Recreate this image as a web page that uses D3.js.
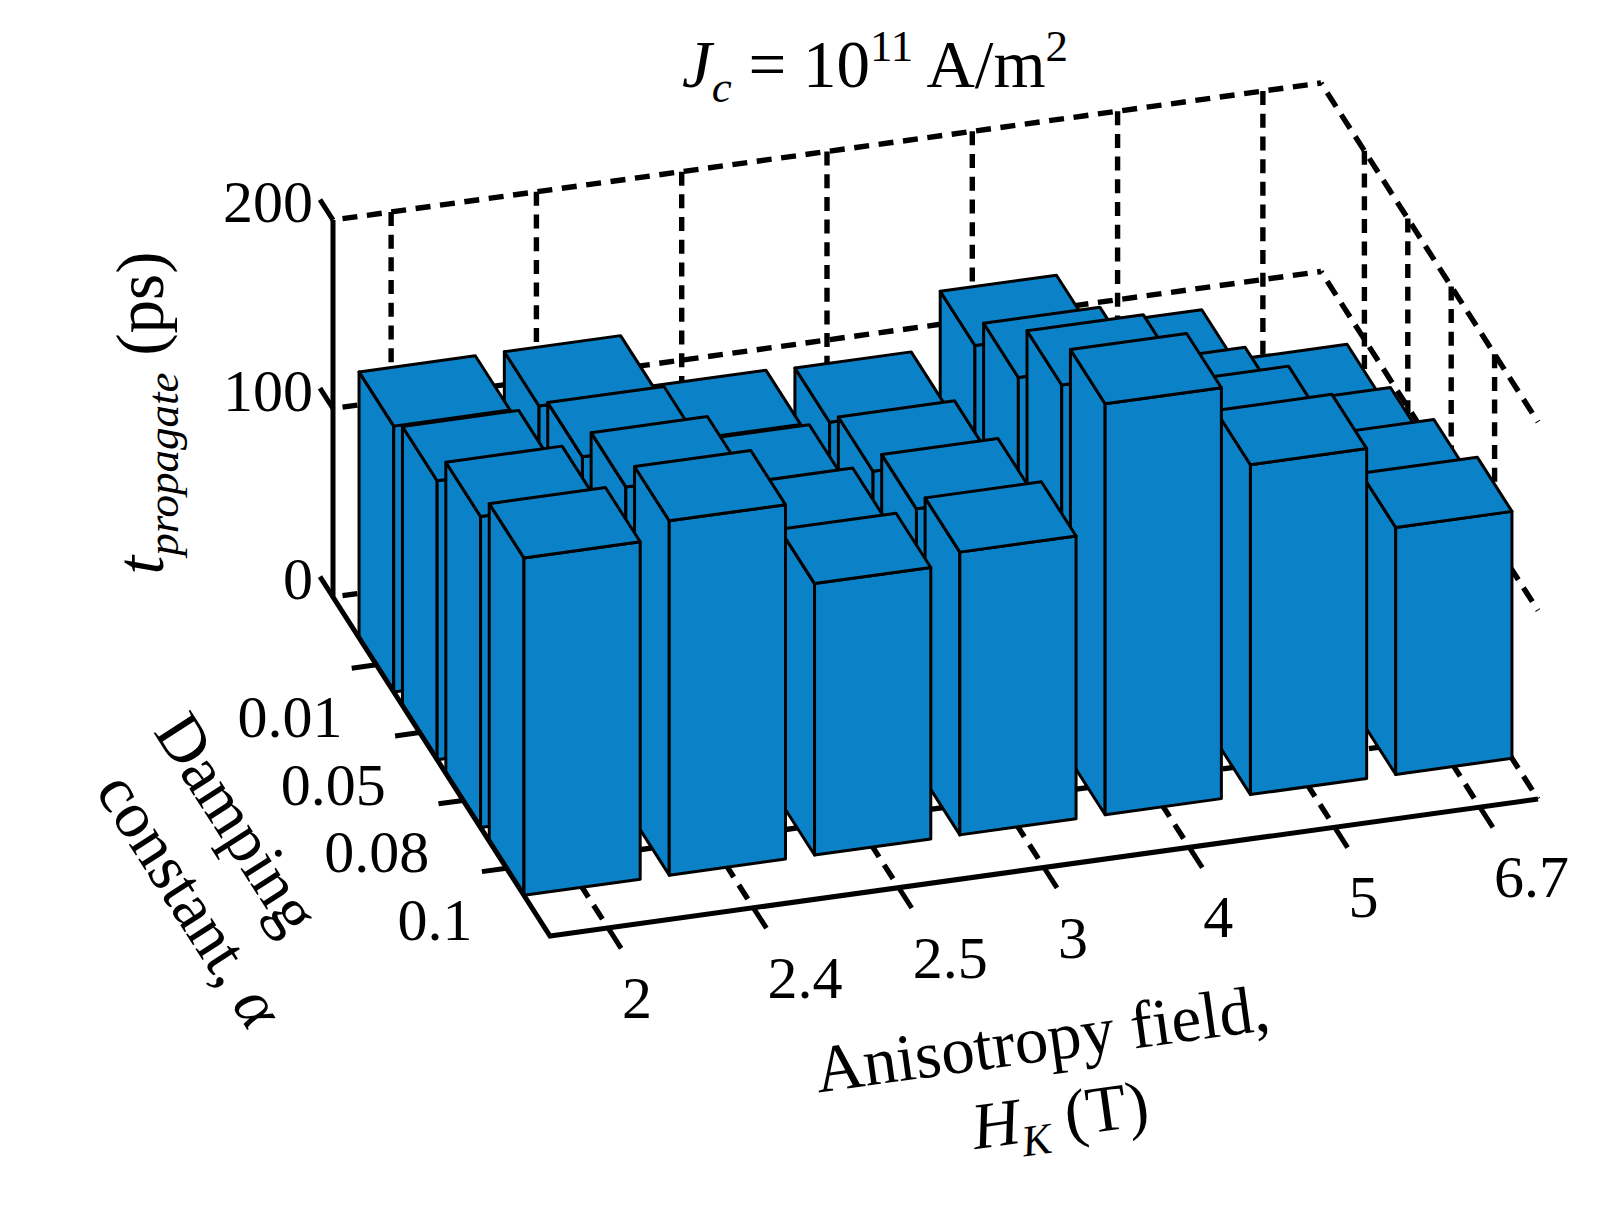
<!DOCTYPE html>
<html>
<head>
<meta charset="utf-8">
<script src="https://cdn.jsdelivr.net/npm/d3@7"></script>
<style>
  body { margin: 0; background: white; }
  text { font-family: "Liberation Serif", serif; fill: black; }
</style>
</head>
<body>
<div id="chart"></div>
<script>
// Tick labels
const hkLabels = ["2", "2.4", "2.5", "3", "4", "5", "6.7"];
const alphaLabels = ["0.01", "0.05", "0.08", "0.1"];
const zTicks = [0, 100, 200];

// Propagation time (ps), one list per damping constant, in order of hkLabels
const alpha001 = [141, 141, 112, 111, 141, 112, 83];
const alpha005 = [148, 150, 119, 121, 160, 128, 96];
const alpha008 = [165, 170, 132, 137, 192, 154, 115];
const alpha01 = [179, 188, 144, 150, 218, 175, 131];
const rows = [alpha001, alpha005, alpha008, alpha01];

const width = 1598, height = 1226;
const barColor = "#0b82c8";

const svg = d3.select("#chart")
    .append("svg")
    .attr("width", width)
    .attr("height", height);

// The axes are skewed, so each data axis gets a scale per screen direction
const xToPx = d3.scaleLinear().domain([0.6, 7.4]).range([0, 988]);
const xToPy = d3.scaleLinear().domain([0.6, 7.4]).range([0, -137]);
const yToPx = d3.scaleLinear().domain([0, 5]).range([0, 217]);
const yToPy = d3.scaleLinear().domain([0, 5]).range([0, 339]);
const zToPy = d3.scaleLinear().domain([0, 200]).range([0, -377]);
const origin = [333, 597];

function project(x, y, z) {
    return [
        origin[0] + xToPx(x) + yToPx(y),
        origin[1] + xToPy(x) + yToPy(y) + zToPy(z)
    ];
}
const xMin = 0.6, xMax = 7.4, yMin = 0, yMax = 5, zMax = 200;
const xVals = hkLabels.map((d, i) => i + 1);
const yVals = alphaLabels.map((d, i) => i + 1);
const line = d3.line();

// Dashed grid on the walls and the floor
const grid = svg.append("g")
    .attr("fill", "none")
    .attr("stroke", "black")
    .attr("stroke-width", 5.4);

function gridLine(a, b, dash, offset) {
    grid.append("path")
        .attr("d", line([a, b]))
        .attr("stroke-dasharray", dash)
        .attr("stroke-dashoffset", offset);
}

zTicks.forEach(z => {
    gridLine(project(xMin, yMin, z), project(xMax, yMin, z), "15 9.6", 15);
    gridLine(project(xMax, yMin, z), project(xMax, yMax, z), "16.5 9.5", 14.5);
});
xVals.forEach(x => {
    gridLine(project(x, yMin, zMax), project(x, yMin, 0), "14 8.7", 0);
    gridLine(project(x, yMin, 0), project(x, yMax, 0), "16.5 9.5", 14.5);
});
yVals.forEach(y => {
    gridLine(project(xMax, y, zMax), project(xMax, y, 0), "14 8.7", 0);
    gridLine(project(xMin, y, 0), project(xMax, y, 0), "15 9.6", 15);
});

// Bars, far ones first so that near ones cover them
const bars = [];
rows.forEach((row, j) => {
    row.slice().reverse().forEach((value, k) => {
        bars.push({ x: row.length - k, y: j + 1, value: value });
    });
});

const half = 0.4;
const barGroups = svg.append("g")
    .selectAll("g")
    .data(bars)
    .enter()
    .append("g")
    .attr("fill", barColor)
    .attr("stroke", "black")
    .attr("stroke-width", 3)
    .attr("stroke-linejoin", "round");

// Left face
barGroups.append("path").attr("d", d => line([
    project(d.x - half, d.y - half, 0),
    project(d.x - half, d.y + half, 0),
    project(d.x - half, d.y + half, d.value),
    project(d.x - half, d.y - half, d.value)
]) + "Z");
// Front face
barGroups.append("path").attr("d", d => line([
    project(d.x - half, d.y + half, 0),
    project(d.x + half, d.y + half, 0),
    project(d.x + half, d.y + half, d.value),
    project(d.x - half, d.y + half, d.value)
]) + "Z");
// Top face
barGroups.append("path").attr("d", d => line([
    project(d.x - half, d.y - half, d.value),
    project(d.x + half, d.y - half, d.value),
    project(d.x + half, d.y + half, d.value),
    project(d.x - half, d.y + half, d.value)
]) + "Z");

// Solid axis lines and tick marks
const axes = svg.append("g")
    .attr("fill", "none")
    .attr("stroke", "black")
    .attr("stroke-width", 5);

axes.append("path").attr("d", line([
    project(xMin, yMin, zMax),
    project(xMin, yMin, 0),
    project(xMin, yMax, 0),
    project(xMax, yMax, 0)
]));
zTicks.forEach(z => {
    axes.append("path").attr("d", line([project(xMin, yMin, z), project(xMin, yMin - 0.3, z)]));
});
xVals.forEach(x => {
    axes.append("path").attr("d", line([project(x, yMax, 0), project(x, yMax + 0.3, 0)]));
});
yVals.forEach(y => {
    axes.append("path").attr("d", line([project(xMin, y, 0), project(xMin - 0.17, y, 0)]));
});

// Tick labels
const fontSize = 60;
svg.append("g").selectAll("text")
    .data(zTicks)
    .enter()
    .append("text")
    .attr("x", d => project(xMin, yMin, d)[0] - 20)
    .attr("y", d => project(xMin, yMin, d)[1] + 2)
    .attr("text-anchor", "end")
    .style("font-size", fontSize + "px")
    .text(d => d);

svg.append("g").selectAll("text")
    .data(hkLabels)
    .enter()
    .append("text")
    .attr("x", (d, i) => project(xVals[i], yMax, 0)[0] + 14)
    .attr("y", (d, i) => project(xVals[i], yMax, 0)[1] + 90)
    .style("font-size", fontSize + "px")
    .text(d => d);

svg.append("g").selectAll("text")
    .data(alphaLabels)
    .enter()
    .append("text")
    .attr("x", (d, i) => project(xMin, yVals[i], 0)[0] - 34)
    .attr("y", (d, i) => project(xMin, yVals[i], 0)[1] + 72)
    .attr("text-anchor", "end")
    .style("font-size", fontSize + "px")
    .text(d => d);

// Title
const title = svg.append("text")
    .attr("x", 875)
    .attr("y", 87)
    .attr("text-anchor", "middle")
    .style("font-size", "67px");
title.append("tspan").style("font-style", "italic").text("J");
title.append("tspan").attr("dy", 15).style("font-size", "45px").style("font-style", "italic").text("c");
title.append("tspan").attr("dy", -15).text(" = 10");
title.append("tspan").attr("dy", -26).style("font-size", "45px").text("11");
title.append("tspan").attr("dy", 26).text(" A/m");
title.append("tspan").attr("dy", -26).style("font-size", "45px").text("2");

// Axis titles
const zLabel = svg.append("text")
    .attr("transform", "translate(163,413) rotate(-90)")
    .attr("text-anchor", "middle")
    .style("font-size", "67px");
zLabel.append("tspan").style("font-style", "italic").text("t");
zLabel.append("tspan").attr("dy", 15).style("font-size", "45px").style("font-style", "italic").text("propagate");
zLabel.append("tspan").attr("dy", -15).text(" (ps)");

svg.append("text")
    .attr("transform", "translate(1045,1061) rotate(-7.9)")
    .attr("text-anchor", "middle")
    .style("font-size", "67px")
    .text("Anisotropy field,");

const hkLabel = svg.append("text")
    .attr("transform", "translate(1063,1137) rotate(-7.9)")
    .attr("text-anchor", "middle")
    .style("font-size", "66px");
hkLabel.append("tspan").style("font-style", "italic").text("H");
hkLabel.append("tspan").attr("dy", 14).style("font-size", "44px").style("font-style", "italic").text("K");
hkLabel.append("tspan").attr("dy", -14).text(" (T)");

svg.append("text")
    .attr("transform", "translate(219,835) rotate(57.4)")
    .attr("text-anchor", "middle")
    .style("font-size", "66px")
    .text("Damping");

const alphaLabel = svg.append("text")
    .attr("transform", "translate(172,912) rotate(57.4)")
    .attr("text-anchor", "middle")
    .style("font-size", "66px");
alphaLabel.append("tspan").text("constant, ");
alphaLabel.append("tspan").style("font-style", "italic").text("α");
</script>
</body>
</html>
